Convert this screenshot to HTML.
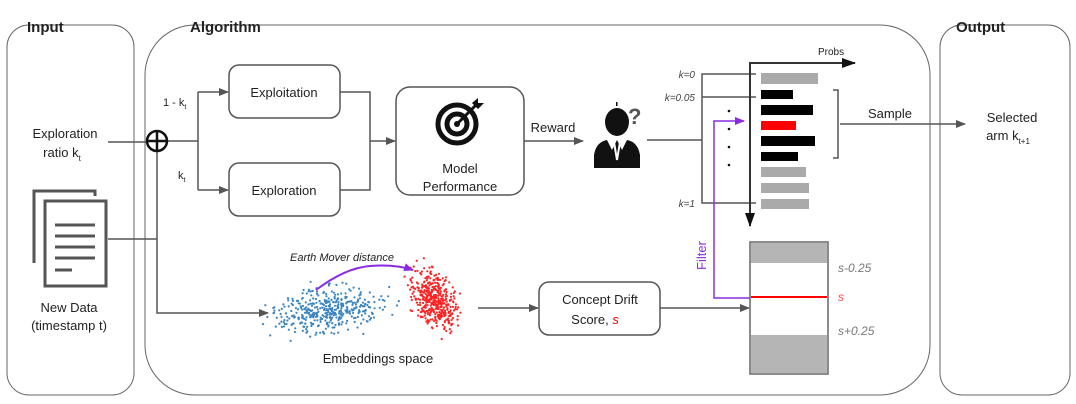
<!DOCTYPE html>
<html><head><meta charset="utf-8"><style>
html,body{margin:0;padding:0;background:#fff;}
svg{display:block;font-family:"Liberation Sans",Arial,sans-serif;}
</style></head><body>
<svg id="s" width="1076" height="404" viewBox="0 0 1076 404" xmlns="http://www.w3.org/2000/svg">
<defs>
<marker id="a" markerWidth="10" markerHeight="10" refX="9" refY="5" orient="auto" markerUnits="userSpaceOnUse"><path d="M0,1 L10,5 L0,9 z" fill="#555"/></marker>
<marker id="ab" markerWidth="14" markerHeight="12" refX="13" refY="6" orient="auto" markerUnits="userSpaceOnUse"><path d="M0,1 L14,6 L0,11 z" fill="#111"/></marker>
<marker id="ap" markerWidth="10" markerHeight="10" refX="9" refY="5" orient="auto" markerUnits="userSpaceOnUse"><path d="M0,1 L10,5 L0,9 z" fill="#8a2be2"/></marker>
</defs>
<rect x="7" y="25" width="127" height="370" rx="22" fill="none" stroke="#666" stroke-width="1"/>
<rect x="145" y="25" width="785" height="370" rx="50" fill="none" stroke="#666" stroke-width="1"/>
<rect x="940" y="25" width="130" height="370" rx="22" fill="none" stroke="#666" stroke-width="1"/>
<text x="27" y="32" font-size="15" font-weight="bold" fill="#222">Input</text>
<text x="190" y="32" font-size="15" font-weight="bold" fill="#222">Algorithm</text>
<text x="956" y="32" font-size="15" font-weight="bold" fill="#222">Output</text>

<g font-size="13" fill="#222" text-anchor="middle">
<text x="65" y="138">Exploration</text>
<text x="62" y="157">ratio k<tspan font-size="8" dy="4">t</tspan></text>
<text x="69" y="312">New Data</text>
<text x="69" y="330">(timestamp t)</text>
</g>
<g fill="none" stroke="#555" stroke-width="3">
<path d="M34,263 V191 H95 V196"/>
<rect x="45" y="201" width="61" height="85"/>
</g>
<g stroke="#555" stroke-width="3">
<line x1="55" y1="225" x2="95" y2="225"/><line x1="55" y1="236" x2="95" y2="236"/><line x1="55" y1="247" x2="95" y2="247"/><line x1="55" y1="258" x2="95" y2="258"/><line x1="55" y1="270" x2="72" y2="270"/>
</g>

<g stroke="#555" stroke-width="1.5" fill="none">
<line x1="108" y1="142" x2="146" y2="142"/>
<line x1="168" y1="141" x2="198" y2="141"/>
<path d="M198,190 V92"/>
<line x1="198" y1="92" x2="228" y2="92" marker-end="url(#a)"/>
<line x1="198" y1="190" x2="228" y2="190" marker-end="url(#a)"/>
<line x1="108" y1="239" x2="157" y2="239"/>
<path d="M157,152 V313 H268" marker-end="url(#a)"/>
<path d="M340,92 H370 V190 H340"/>
<line x1="370" y1="141" x2="395" y2="141" marker-end="url(#a)"/>
<line x1="524" y1="141" x2="583" y2="141" marker-end="url(#a)"/>
<line x1="478" y1="308" x2="538" y2="308" marker-end="url(#a)"/>
<line x1="660" y1="308" x2="749" y2="308" marker-end="url(#a)"/>
<path d="M647,140 H702"/>
<path d="M756,74 H702 V203 H756 M702,97 H756"/>
<line x1="840" y1="124" x2="965" y2="124" marker-end="url(#a)"/>
<path d="M833,90 H838 V158 H833"/>
</g>
<circle cx="157" cy="141" r="10" fill="#fff" stroke="#111" stroke-width="2.5"/>
<path d="M147,141 H167 M157,131 V151" stroke="#111" stroke-width="2.5"/>
<text x="163" y="106" font-size="11" fill="#222">1 - k<tspan font-size="7" dy="3">t</tspan></text>
<text x="178" y="179" font-size="11" fill="#222">k<tspan font-size="7" dy="3">t</tspan></text>

<g fill="#fff" stroke="#555" stroke-width="1.5">
<rect x="229" y="65" width="111" height="53" rx="10"/>
<rect x="229" y="163" width="111" height="53" rx="10"/>
<rect x="396" y="87" width="128" height="108" rx="14"/>
<rect x="539" y="282" width="121" height="53" rx="10"/>
</g>
<g font-size="13" fill="#222" text-anchor="middle">
<text x="284" y="97">Exploitation</text>
<text x="284" y="195">Exploration</text>
<text x="460" y="173">Model</text>
<text x="460" y="191">Performance</text>
<text x="600" y="304">Concept Drift</text>
<text x="595" y="324">Score, <tspan fill="#e00" font-style="italic">s</tspan></text>
<text x="553" y="132">Reward</text>
<text x="890" y="118">Sample</text>
<text x="1012" y="122">Selected</text>
<text x="1008" y="140">arm k<tspan font-size="8" dy="4">t+1</tspan></text>
<text x="378" y="363">Embeddings space</text>
</g>
<g fill="none" stroke="#111">
<circle cx="457" cy="124" r="19" stroke-width="5"/>
<circle cx="457" cy="124" r="10" stroke-width="5"/>
<circle cx="457" cy="124" r="3" fill="#111" stroke="none"/>
<path d="M458,123 L476,105" stroke-width="3"/>
<path d="M472,103 L478,98 L478,103 L484,103 L478,109 Z" fill="#111" stroke="none"/>
</g>
<g fill="#111">
<ellipse cx="617" cy="122" rx="12" ry="14"/>
<rect x="616" y="102" width="1.5" height="4"/>
<path d="M594,168 V155 Q596,142 607,140 L612,150 L617,140 L622,150 L627,140 Q638,142 640,155 V168 Z"/>
</g>
<path d="M614,142 L617,160 L620,142" stroke="#fff" stroke-width="2" fill="none"/>
<text x="628" y="124" font-size="22" font-weight="bold" fill="#555">?</text>

<g font-size="10" font-style="italic" fill="#444" text-anchor="end">
<text x="695" y="78">k=0</text>
<text x="695" y="101">k=0.05</text>
<text x="695" y="207">k=1</text>
</g>
<text x="818" y="55" font-size="10" fill="#222">Probs</text>
<path d="M750,225 V63 H855" stroke="#333" stroke-width="2" fill="none" marker-end="url(#ab)"/>
<line x1="750" y1="70" x2="750" y2="226" stroke="#333" stroke-width="2" marker-end="url(#ab)"/>
<g>
<rect x="761" y="73" width="57" height="11" fill="#aaa"/>
<rect x="761" y="90" width="32" height="9" fill="#000"/>
<rect x="761" y="105" width="52" height="10" fill="#000"/>
<rect x="761" y="121" width="35" height="9" fill="#f00"/>
<rect x="761" y="136" width="54" height="10" fill="#000"/>
<rect x="761" y="152" width="37" height="9" fill="#000"/>
<rect x="761" y="167" width="45" height="10" fill="#aaa"/>
<rect x="761" y="183" width="48" height="10" fill="#aaa"/>
<rect x="761" y="199" width="48" height="10" fill="#aaa"/>
</g>
<g fill="#111"><circle cx="729" cy="111" r="1.3"/><circle cx="729" cy="129" r="1.3"/><circle cx="729" cy="147" r="1.3"/><circle cx="729" cy="165" r="1.3"/></g>

<rect x="750" y="242" width="78" height="132" fill="#fff" stroke="#666" stroke-width="1.5"/>
<rect x="751" y="243" width="76" height="20" fill="#b5b5b5"/>
<rect x="751" y="335" width="76" height="38" fill="#b5b5b5"/>
<line x1="751" y1="297" x2="827" y2="297" stroke="#f00" stroke-width="2"/>
<g font-size="12" font-style="italic" fill="#777">
<text x="838" y="272">s-0.25</text>
<text x="838" y="301" fill="#f44">s</text>
<text x="838" y="335">s+0.25</text>
</g>
<path d="M750,298 H714 V121 H744" stroke="#8a2be2" stroke-width="1.5" fill="none" marker-end="url(#ap)"/>
<text x="0" y="0" font-size="13" fill="#8a2be2" transform="translate(706,270) rotate(-90)">Filter</text>

<g id="pts"></g>
<path d="M316,290 Q345,268 370,266 Q395,264 413,270" stroke="#8a2be2" stroke-width="2" fill="none" marker-end="url(#ap)"/>
<text x="290" y="261" font-size="11" font-style="italic" fill="#222">Earth Mover distance</text>
</svg>
<script>
var g=document.getElementById('pts'),seed=7;
function r(){seed=(seed*16807)%2147483647;return seed/2147483647;}
function n(){return (r()+r()+r()+r()-2)/0.58;}
var ns='http://www.w3.org/2000/svg';
function dot(x,y,c){var e=document.createElementNS(ns,'circle');e.setAttribute('cx',x.toFixed(1));e.setAttribute('cy',y.toFixed(1));e.setAttribute('r','1.1');e.setAttribute('fill',c);g.appendChild(e);}
for(var i=0;i<420;i++){var u=n(),v=n();dot(328+u*24+v*3,310+v*10-u*4,'#3a84c0');}
for(var i=0;i<420;i++){var u=n(),v=n();dot(434+u*11+v*3,300+v*15+u*3,'#f22');}
</script>
</body></html>
